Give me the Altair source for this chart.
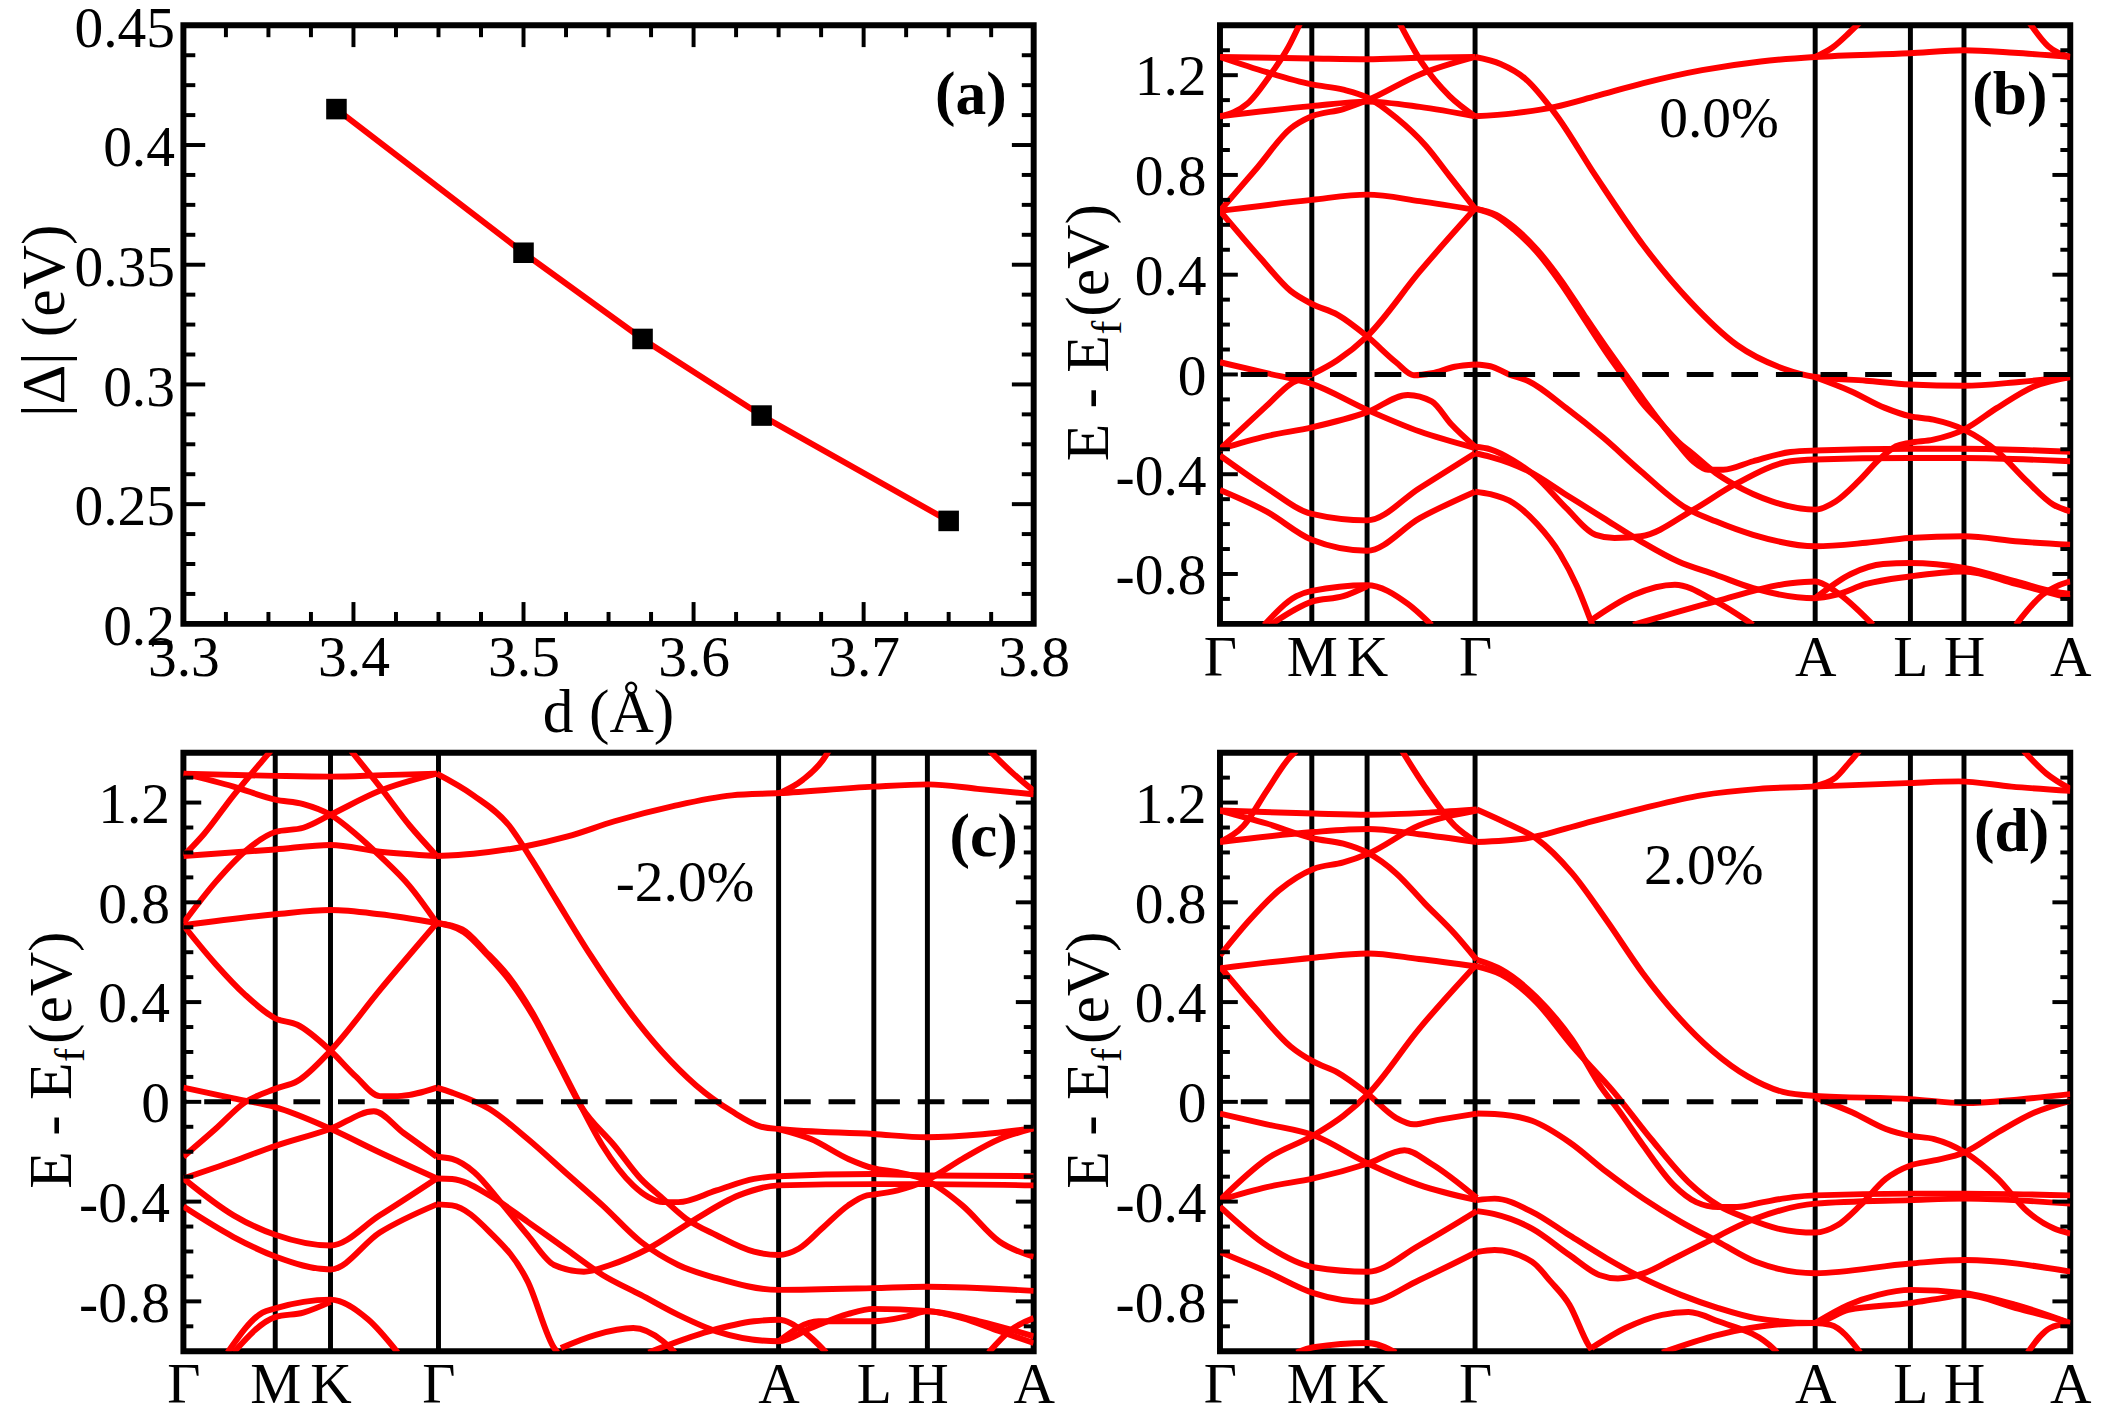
import json
import altair as alt
import pandas as pd

FONT = "Liberation Serif"
RED = "#ff0000"
W, H = 858, 604

# ---------------- panel (a) data ----------------
d_vals = [3.39, 3.50, 3.57, 3.64, 3.75]
gap_vals = [0.415, 0.355, 0.319, 0.287, 0.243]
a_xticks = [3.3, 3.4, 3.5, 3.6, 3.7, 3.8]
a_yticks = [0.2, 0.25, 0.3, 0.35, 0.4, 0.45]

# ---------------- band-structure k path ----------------
KPTS = [0.0, 0.108, 0.173, 0.300, 0.700, 0.812, 0.875, 1.0]
KLABELS = ["Γ", "M", "K", "Γ", "A", "L", "H", "A"]
E_TICKS = [-0.8, -0.4, 0, 0.4, 0.8, 1.2]

# ---------------- panel (b) 0.0% ----------------
bands_b = {
    "L1": ([0, 0.108, 0.173, 0.235, 0.300], [1.273, 1.267, 1.264, 1.27, 1.273]),
    "L2": ([0, 0.055, 0.108, 0.145, 0.173, 0.207, 0.242, 0.270, 0.300], [1.273, 1.212, 1.163, 1.142, 1.111, 1.030, 0.917, 0.795, 0.665]),
    "L3": ([0, 0.032, 0.063, 0.080, 0.0945], [1.035, 1.085, 1.22, 1.31, 1.41]),
    "L4": ([0, 0.108, 0.173, 0.235, 0.300], [1.035, 1.076, 1.094, 1.073, 1.035]),
    "L5": ([0, 0.044, 0.083, 0.108, 0.145, 0.173, 0.235, 0.300], [0.656, 0.830, 0.986, 1.035, 1.064, 1.099, 1.203, 1.273]),
    "L6": ([0, 0.108, 0.173, 0.235, 0.300], [0.656, 0.700, 0.721, 0.695, 0.660]),
    "L7": ([0, 0.048, 0.083, 0.108, 0.138, 0.173, 0.207, 0.228, 0.249, 0.276, 0.300], [0.656, 0.465, 0.335, 0.283, 0.240, 0.153, 0.049, -0.003, 0.005, 0.031, 0.040]),
    "L8": ([0, 0.055, 0.083, 0.108, 0.138, 0.173, 0.235, 0.300], [-0.299, -0.125, -0.038, 0.0, 0.057, 0.153, 0.413, 0.665]),
    "L9": ([0, 0.055, 0.108, 0.173, 0.235, 0.300], [0.049, 0.005, -0.038, -0.142, -0.229, -0.295]),
    "L10": ([0, 0.055, 0.108, 0.173, 0.221, 0.249, 0.272, 0.300], [-0.299, -0.247, -0.212, -0.151, -0.082, -0.108, -0.20, -0.290]),
    "L11": ([0, 0.055, 0.108, 0.173, 0.235, 0.300], [-0.325, -0.455, -0.559, -0.585, -0.455, -0.316]),
    "L12": ([0, 0.055, 0.108, 0.173, 0.235, 0.300], [-0.463, -0.550, -0.663, -0.707, -0.576, -0.470]),
    "L13": ([0.052, 0.090, 0.108, 0.173, 0.221, 0.249], [-1.005, -0.889, -0.868, -0.845, -0.92, -1.005]),
    "L14": ([0.059, 0.108, 0.145, 0.173], [-1.005, -0.911, -0.889, -0.849]),
    "L15": ([0.211, 0.238, 0.270, 0.300], [1.41, 1.247, 1.116, 1.035]),
    "R1": ([0.300, 0.330, 0.359, 0.394, 0.442, 0.498, 0.553, 0.608, 0.663, 0.700, 0.760, 0.811, 0.875, 0.94, 1.0], [1.273, 1.245, 1.186, 1.047, 0.795, 0.517, 0.292, 0.118, 0.023, -0.010, -0.025, -0.040, -0.045, -0.03, -0.010]),
    "R2": ([0.300, 0.345, 0.394, 0.442, 0.498, 0.567, 0.636, 0.700, 0.811, 0.875, 0.934, 1.0], [1.035, 1.047, 1.073, 1.116, 1.168, 1.220, 1.255, 1.273, 1.288, 1.300, 1.290, 1.273]),
    "R3": ([0.700, 0.72, 0.74, 0.752], [1.273, 1.31, 1.37, 1.41]),
    "R4": ([0.952, 0.974, 1.0], [1.41, 1.316, 1.273]),
    "R5": ([0.300, 0.325, 0.346, 0.373, 0.401, 0.428, 0.456, 0.477, 0.498, 0.520, 0.539, 0.557, 0.574, 0.592, 0.627, 0.671, 0.700, 0.811, 0.875, 1.0], [0.665, 0.64, 0.59, 0.50, 0.378, 0.24, 0.10, 0.0, -0.10, -0.20, -0.281, -0.35, -0.382, -0.382, -0.348, -0.311, -0.305, -0.298, -0.298, -0.310]),
    "R6": ([0.300, 0.325, 0.346, 0.373, 0.401, 0.428, 0.456, 0.477, 0.498, 0.517, 0.539, 0.557, 0.583, 0.605, 0.649, 0.700, 0.724, 0.751, 0.777, 0.795, 0.811, 0.839, 0.875, 0.914, 0.958, 1.0], [0.665, 0.635, 0.58, 0.49, 0.365, 0.225, 0.08, -0.02, -0.12, -0.19, -0.27, -0.321, -0.395, -0.442, -0.509, -0.542, -0.509, -0.428, -0.335, -0.288, -0.274, -0.261, -0.221, -0.134, -0.047, -0.010]),
    "R7": ([0.700, 0.742, 0.782, 0.811, 0.839, 0.875, 0.914, 0.949, 0.980, 1.0], [-0.011, -0.067, -0.134, -0.167, -0.181, -0.221, -0.308, -0.428, -0.522, -0.549]),
    "R8": ([0.300, 0.318, 0.340, 0.363, 0.407, 0.451, 0.495, 0.548, 0.583, 0.627, 0.700, 0.760, 0.811, 0.875, 0.94, 1.0], [0.040, 0.033, 0.0, -0.027, -0.134, -0.254, -0.388, -0.535, -0.589, -0.643, -0.689, -0.675, -0.656, -0.649, -0.67, -0.683]),
    "R9": ([0.300, 0.318, 0.345, 0.371, 0.407, 0.442, 0.464, 0.495, 0.557, 0.605, 0.671, 0.700, 0.811, 0.875, 1.0], [-0.290, -0.30, -0.345, -0.408, -0.535, -0.643, -0.656, -0.649, -0.542, -0.442, -0.348, -0.341, -0.335, -0.335, -0.348]),
    "R10": ([0.300, 0.318, 0.363, 0.407, 0.451, 0.495, 0.539, 0.583, 0.627, 0.700, 0.724, 0.760, 0.811, 0.875, 0.936, 1.0], [-0.316, -0.33, -0.388, -0.482, -0.576, -0.669, -0.750, -0.803, -0.857, -0.897, -0.884, -0.840, -0.810, -0.790, -0.840, -0.897]),
    "R11": ([0.700, 0.742, 0.780, 0.811, 0.875, 0.936, 0.980, 1.0], [-0.897, -0.80, -0.76, -0.756, -0.776, -0.830, -0.870, -0.88]),
    "R12": ([0.486, 0.583, 0.671, 0.700, 0.724, 0.768], [-1.004, -0.910, -0.837, -0.830, -0.870, -1.004]),
    "R13": ([0.437, 0.486, 0.535, 0.583, 0.627], [-0.984, -0.884, -0.843, -0.910, -1.004]),
    "R14": ([0.300, 0.318, 0.345, 0.373, 0.40, 0.42, 0.438], [-0.47, -0.48, -0.515, -0.60, -0.72, -0.85, -1.005]),
    "R15": ([0.936, 0.967, 1.0], [-1.004, -0.884, -0.830]),
}

# ---------------- panel (c) -2.0% ----------------
bands_c = {
    "L1": ([0, 0.108, 0.173, 0.235, 0.298], [1.316, 1.307, 1.304, 1.31, 1.316]),
    "L2": ([0, 0.059, 0.108, 0.141, 0.173, 0.203, 0.231, 0.266, 0.298], [1.316, 1.264, 1.212, 1.194, 1.151, 1.073, 0.986, 0.865, 0.717]),
    "L3": ([0, 0.024, 0.059, 0.093, 0.103], [0.986, 1.073, 1.229, 1.368, 1.408]),
    "L4": ([0, 0.108, 0.173, 0.231, 0.298], [0.986, 1.012, 1.030, 1.003, 0.986]),
    "L5": ([0, 0.038, 0.072, 0.108, 0.141, 0.173, 0.231, 0.298], [0.717, 0.882, 1.003, 1.082, 1.099, 1.151, 1.247, 1.316]),
    "L6": ([0, 0.108, 0.173, 0.231, 0.298], [0.708, 0.752, 0.769, 0.752, 0.717]),
    "L7": ([0, 0.038, 0.072, 0.108, 0.134, 0.173, 0.203, 0.231, 0.252, 0.298], [0.708, 0.552, 0.431, 0.335, 0.309, 0.205, 0.101, 0.023, 0.023, 0.057]),
    "L8": ([0, 0.038, 0.072, 0.108, 0.134, 0.173, 0.231, 0.298], [-0.220, -0.108, -0.003, 0.052, 0.083, 0.205, 0.448, 0.717]),
    "L9": ([0, 0.059, 0.108, 0.173, 0.231, 0.298], [0.057, 0.014, -0.021, -0.108, -0.203, -0.307]),
    "L10": ([0, 0.059, 0.108, 0.173, 0.224, 0.259, 0.298], [-0.307, -0.238, -0.177, -0.108, -0.038, -0.125, -0.220]),
    "L11": ([0, 0.059, 0.108, 0.173, 0.231, 0.298], [-0.307, -0.455, -0.533, -0.576, -0.455, -0.307]),
    "L12": ([0, 0.059, 0.108, 0.173, 0.231, 0.298], [-0.420, -0.542, -0.620, -0.672, -0.524, -0.411]),
    "L13": ([0.052, 0.093, 0.108, 0.173, 0.217, 0.252], [-1.005, -0.845, -0.828, -0.793, -0.872, -1.005]),
    "L14": ([0.059, 0.108, 0.141, 0.173], [-1.005, -0.863, -0.845, -0.802]),
    "L15": ([0.197, 0.231, 0.266, 0.298], [1.408, 1.264, 1.108, 0.986]),
    "R1": ([0.298, 0.341, 0.383, 0.410, 0.438, 0.479, 0.521, 0.562, 0.603, 0.645, 0.679, 0.700, 0.811, 0.874, 0.94, 1.0], [1.316, 1.229, 1.108, 0.969, 0.813, 0.587, 0.378, 0.205, 0.066, -0.038, -0.099, -0.109, -0.129, -0.142, -0.13, -0.106]),
    "R2": ([0.298, 0.341, 0.397, 0.452, 0.507, 0.576, 0.645, 0.701, 0.812, 0.876, 0.934, 1.0], [0.986, 0.995, 1.021, 1.064, 1.125, 1.186, 1.229, 1.238, 1.264, 1.273, 1.255, 1.233]),
    "R3": ([0.701, 0.728, 0.755, 0.759], [1.238, 1.29, 1.385, 1.408]),
    "R4": ([0.948, 0.976, 1.0], [1.408, 1.316, 1.247]),
    "R5": ([0.298, 0.328, 0.355, 0.383, 0.410, 0.438, 0.465, 0.493, 0.529, 0.547, 0.564, 0.582, 0.627, 0.671, 0.700, 0.811, 0.874, 1.0], [0.717, 0.691, 0.604, 0.50, 0.36, 0.18, 0.0, -0.176, -0.335, -0.382, -0.402, -0.402, -0.355, -0.309, -0.298, -0.289, -0.295, -0.298]),
    "R6": ([0.298, 0.330, 0.357, 0.385, 0.412, 0.440, 0.468, 0.507, 0.538, 0.564, 0.591, 0.627, 0.671, 0.700, 0.724, 0.751, 0.782, 0.804, 0.811, 0.840, 0.874, 0.916, 0.960, 1.0], [0.717, 0.68, 0.59, 0.48, 0.34, 0.16, -0.02, -0.176, -0.309, -0.388, -0.468, -0.535, -0.601, -0.614, -0.588, -0.508, -0.415, -0.375, -0.372, -0.355, -0.315, -0.229, -0.149, -0.106]),
    "R7": ([0.700, 0.738, 0.782, 0.811, 0.840, 0.874, 0.916, 0.960, 1.0], [-0.109, -0.149, -0.229, -0.266, -0.282, -0.315, -0.415, -0.561, -0.621]),
    "R8": ([0.298, 0.316, 0.360, 0.405, 0.449, 0.493, 0.538, 0.582, 0.627, 0.700, 0.811, 0.874, 1.0], [0.057, 0.037, -0.029, -0.149, -0.282, -0.415, -0.561, -0.654, -0.707, -0.754, -0.747, -0.741, -0.758]),
    "R9": ([0.298, 0.316, 0.342, 0.373, 0.405, 0.436, 0.471, 0.502, 0.547, 0.600, 0.653, 0.700, 0.811, 0.874, 1.0], [-0.220, -0.229, -0.282, -0.402, -0.535, -0.654, -0.681, -0.654, -0.588, -0.475, -0.375, -0.335, -0.33, -0.33, -0.335]),
    "R10": ([0.298, 0.316, 0.360, 0.405, 0.449, 0.493, 0.538, 0.582, 0.627, 0.700, 0.738, 0.782, 0.811, 0.874, 0.916, 0.960, 1.0], [-0.307, -0.309, -0.375, -0.481, -0.588, -0.694, -0.774, -0.854, -0.920, -0.960, -0.907, -0.85, -0.83, -0.838, -0.867, -0.92, -0.967]),
    "R11": ([0.700, 0.747, 0.811, 0.851, 0.874, 0.936, 1.0], [-0.960, -0.88, -0.880, -0.86, -0.84, -0.88, -0.94]),
    "R12": ([0.298, 0.316, 0.360, 0.405, 0.436, 0.44], [-0.411, -0.415, -0.521, -0.721, -0.987, -1.005]),
    "R13": ([0.444, 0.485, 0.529, 0.564, 0.578], [-0.987, -0.934, -0.907, -0.960, -1.005]),
    "R14": ([0.547, 0.618, 0.671, 0.700, 0.729, 0.756], [-1.005, -0.920, -0.880, -0.874, -0.920, -1.005]),
    "R15": ([0.947, 0.973, 1.0], [-1.005, -0.915, -0.867]),
}

# ---------------- panel (d) 2.0% ----------------
bands_d = {
    "L1": ([0, 0.110, 0.174, 0.248, 0.302], [1.168, 1.156, 1.151, 1.160, 1.172]),
    "L2": ([0, 0.055, 0.110, 0.145, 0.174, 0.207, 0.241, 0.276, 0.302], [1.168, 1.116, 1.056, 1.035, 0.998, 0.917, 0.795, 0.674, 0.569]),
    "L3": ([0, 0.028, 0.055, 0.083, 0.090], [1.042, 1.108, 1.247, 1.385, 1.408]),
    "L4": ([0, 0.110, 0.174, 0.234, 0.302], [1.042, 1.082, 1.094, 1.073, 1.042]),
    "L5": ([0, 0.034, 0.069, 0.110, 0.145, 0.174, 0.234, 0.302], [0.587, 0.726, 0.847, 0.934, 0.960, 0.995, 1.108, 1.168]),
    "L6": ([0, 0.110, 0.174, 0.234, 0.302], [0.535, 0.578, 0.595, 0.573, 0.543]),
    "L7": ([0, 0.041, 0.083, 0.110, 0.138, 0.174, 0.207, 0.228, 0.255, 0.302], [0.543, 0.378, 0.222, 0.161, 0.118, 0.031, -0.064, -0.090, -0.073, -0.047]),
    "L8": ([0, 0.055, 0.110, 0.145, 0.174, 0.234, 0.302], [-0.394, -0.229, -0.134, -0.056, 0.031, 0.292, 0.552]),
    "L9": ([0, 0.055, 0.110, 0.174, 0.234, 0.302], [-0.047, -0.090, -0.134, -0.247, -0.333, -0.394]),
    "L10": ([0, 0.055, 0.110, 0.174, 0.217, 0.248, 0.302], [-0.394, -0.342, -0.307, -0.247, -0.194, -0.247, -0.385]),
    "L11": ([0, 0.055, 0.110, 0.174, 0.234, 0.302], [-0.42, -0.576, -0.663, -0.681, -0.576, -0.438]),
    "L12": ([0, 0.055, 0.110, 0.174, 0.234, 0.302], [-0.602, -0.681, -0.767, -0.802, -0.715, -0.602]),
    "L13": ([0.090, 0.110, 0.174, 0.207], [-1.005, -0.984, -0.967, -1.005]),
    "L14": ([0.214, 0.241, 0.276, 0.302], [1.408, 1.264, 1.108, 1.042]),
    "R1": ([0.302, 0.338, 0.372, 0.414, 0.455, 0.497, 0.538, 0.579, 0.621, 0.662, 0.700, 0.812, 0.876, 0.94, 1.0], [1.172, 1.116, 1.056, 0.917, 0.726, 0.517, 0.344, 0.205, 0.101, 0.040, 0.024, 0.011, -0.005, 0.01, 0.031]),
    "R2": ([0.302, 0.359, 0.428, 0.497, 0.566, 0.634, 0.697, 0.807, 0.869, 0.931, 1.0], [1.042, 1.056, 1.116, 1.177, 1.229, 1.255, 1.264, 1.278, 1.285, 1.264, 1.247]),
    "R3": ([0.697, 0.724, 0.740, 0.752], [1.264, 1.30, 1.36, 1.408]),
    "R4": ([0.945, 0.972, 1.0], [1.408, 1.316, 1.255]),
    "R5": ([0.302, 0.331, 0.372, 0.414, 0.450, 0.468, 0.498, 0.534, 0.560, 0.586, 0.608, 0.639, 0.674, 0.700, 0.812, 0.876, 1.0], [0.569, 0.53, 0.42, 0.25, 0.05, -0.03, -0.176, -0.335, -0.402, -0.422, -0.422, -0.402, -0.382, -0.375, -0.368, -0.368, -0.375]),
    "R6": ([0.302, 0.331, 0.372, 0.414, 0.463, 0.507, 0.551, 0.586, 0.621, 0.656, 0.700, 0.726, 0.753, 0.783, 0.812, 0.840, 0.876, 0.915, 0.958, 1.0], [0.543, 0.51, 0.40, 0.225, 0.04, -0.149, -0.322, -0.415, -0.468, -0.508, -0.524, -0.495, -0.415, -0.309, -0.255, -0.235, -0.202, -0.122, -0.043, 0.004]),
    "R7": ([0.700, 0.744, 0.783, 0.812, 0.840, 0.876, 0.915, 0.950, 0.981, 1.0], [0.017, -0.043, -0.109, -0.136, -0.149, -0.202, -0.309, -0.441, -0.508, -0.528]),
    "R8": ([0.302, 0.323, 0.367, 0.411, 0.455, 0.498, 0.542, 0.586, 0.630, 0.700, 0.812, 0.876, 1.0], [-0.047, -0.049, -0.076, -0.162, -0.282, -0.388, -0.481, -0.561, -0.641, -0.687, -0.648, -0.634, -0.681]),
    "R9": ([0.302, 0.323, 0.367, 0.411, 0.446, 0.468, 0.498, 0.534, 0.569, 0.630, 0.700, 0.812, 0.876, 1.0], [-0.438, -0.45, -0.508, -0.614, -0.694, -0.708, -0.688, -0.628, -0.568, -0.468, -0.408, -0.394, -0.388, -0.408]),
    "R10": ([0.302, 0.323, 0.367, 0.411, 0.455, 0.498, 0.542, 0.586, 0.630, 0.700, 0.739, 0.812, 0.849, 0.876, 0.936, 0.981, 1.0], [-0.394, -0.388, -0.441, -0.535, -0.628, -0.708, -0.774, -0.827, -0.867, -0.887, -0.834, -0.807, -0.787, -0.774, -0.827, -0.867, -0.887]),
    "R11": ([0.700, 0.739, 0.774, 0.812, 0.876, 0.936, 1.0], [-0.887, -0.814, -0.774, -0.754, -0.767, -0.814, -0.887]),
    "R12": ([0.302, 0.323, 0.367, 0.389, 0.411, 0.433, 0.437], [-0.602, -0.594, -0.641, -0.721, -0.814, -0.973, -0.995]),
    "R13": ([0.437, 0.477, 0.520, 0.551, 0.586, 0.652, 0.655], [-0.987, -0.907, -0.854, -0.843, -0.880, -0.993, -1.005]),
    "R14": ([0.520, 0.586, 0.652, 0.700, 0.718, 0.753], [-1.005, -0.934, -0.894, -0.887, -0.894, -1.005]),
    "R15": ([0.950, 0.976, 1.0], [-1.005, -0.907, -0.887]),
}

# annotations: (text, k, E)
strain_b = ("0.0%", 0.587, 1.021)
strain_c = ("-2.0%", 0.590, 0.873)
strain_d = ("2.0%", 0.569, 0.943)
tag_b = ("(b)", 0.929, 1.120)
tag_c = ("(c)", 0.941, 1.062)
tag_d = ("(d)", 0.931, 1.080)
tag_a = ("(a)", 3.763, 0.421)

LBL = 58
TTL = 62
BAND_W = 6


def text_layer(txt, x, y, size=LBL, angle=0, align="center", baseline="middle", weight="normal"):
    return alt.Chart(pd.DataFrame({"t": [txt]})).mark_text(
        font=FONT, fontSize=size, angle=angle, align=align, baseline=baseline,
        fontWeight=weight, color="black"
    ).encode(x=alt.value(x), y=alt.value(y), text="t:N")


def tick_layers(field, enc_ch, scale, axis, majors, minors, major_len, minor_len, sides):
    layers = []
    for vals, ln in ((majors, major_len), (minors, minor_len)):
        df = pd.DataFrame({field: vals})
        for side in sides:
            if side == "left":
                pos = dict(x=alt.value(0), x2=alt.value(ln))
            elif side == "right":
                pos = dict(x=alt.value(W - ln), x2=alt.value(W))
            elif side == "top":
                pos = dict(y=alt.value(0), y2=alt.value(ln))
            else:
                pos = dict(y=alt.value(H - ln), y2=alt.value(H))
            if enc_ch == "y":
                enc = dict(y=alt.Y(f"{field}:Q", scale=scale, axis=axis), **pos)
            else:
                enc = dict(x=alt.X(f"{field}:Q", scale=scale, axis=axis), **pos)
            layers.append(alt.Chart(df).mark_rule(color="black", strokeWidth=4).encode(**enc))
    return layers


# ---------------- panel (a) ----------------
ax_scale = alt.Scale(domain=[3.3, 3.8], nice=False, zero=False)
ay_scale = alt.Scale(domain=[0.2, 0.45], nice=False, zero=False)
ax_axis = alt.Axis(values=a_xticks, labelExpr="'' + datum.value", title=None, domain=False, ticks=False,
                   grid=False, labelFont=FONT, labelFontSize=LBL, labelColor="black", labelPadding=6,
                   labelFlush=False, labelOverlap=False, labelBaseline="top")
ay_axis = alt.Axis(values=a_yticks, labelExpr="'' + datum.value", title=None, domain=False, ticks=False,
                   grid=False, labelFont=FONT, labelFontSize=LBL, labelColor="black", labelPadding=9,
                   labelFlush=False, labelOverlap=False, labelOffset=4)

a_df = pd.DataFrame({"d": d_vals, "gap": gap_vals})
a_line = alt.Chart(a_df).mark_line(color=RED, strokeWidth=BAND_W).encode(
    x=alt.X("d:Q", scale=ax_scale, axis=ax_axis), y=alt.Y("gap:Q", scale=ay_scale, axis=ay_axis))
a_pts = alt.Chart(a_df).mark_square(color="black", size=430, opacity=1).encode(
    x=alt.X("d:Q", scale=ax_scale, axis=ax_axis), y=alt.Y("gap:Q", scale=ay_scale, axis=ay_axis))

a_ymaj = [0.25, 0.3, 0.35, 0.4]
a_ymin = [round(0.2 + 0.0125 * i, 4) for i in range(1, 20) if i % 4]
a_xmaj = [3.4, 3.5, 3.6, 3.7]
a_xmin = [round(3.3 + 0.025 * i, 4) for i in range(1, 20) if i % 4]

a_tag = alt.Chart(pd.DataFrame({"t": [tag_a[0]], "d": [tag_a[1]], "gap": [tag_a[2]]})).mark_text(
    font=FONT, fontSize=TTL, fontWeight="bold", color="black").encode(
    x=alt.X("d:Q", scale=ax_scale, axis=ax_axis), y=alt.Y("gap:Q", scale=ay_scale, axis=ay_axis), text="t:N")

panel_a = alt.layer(
    a_line, a_pts,
    *tick_layers("gap", "y", ay_scale, ay_axis, a_ymaj, a_ymin, 22, 12, ["left", "right"]),
    *tick_layers("d", "x", ax_scale, ax_axis, a_xmaj, a_xmin, 22, 12, ["top", "bottom"]),
    a_tag,
    text_layer("|Δ| (eV)", -120, 298, size=TTL, angle=270, baseline="alphabetic"),
    text_layer("d (Å)", W / 2, 713, size=TTL, baseline="alphabetic"),
).properties(width=W, height=H)

# ---------------- band panels ----------------
bx_scale = alt.Scale(domain=[0, 1], nice=False, zero=False)
by_scale = alt.Scale(domain=[-1.0, 1.4], nice=False, zero=False)
k_expr = f"{json.dumps(KLABELS, ensure_ascii=False)}[indexof({json.dumps(KPTS)}, datum.value)]"
bx_axis = alt.Axis(values=KPTS, labelExpr=k_expr, title=None, domain=False, ticks=False, grid=False,
                   labelFont=FONT, labelFontSize=LBL, labelColor="black", labelPadding=6,
                   labelFlush=False, labelOverlap=False, labelBaseline="top")
by_axis = alt.Axis(values=E_TICKS, labelExpr="'' + datum.value", title=None, domain=False, ticks=False,
                   grid=False, labelFont=FONT, labelFontSize=LBL, labelColor="black", labelPadding=14,
                   labelFlush=False, labelOverlap=False, labelOffset=3)

E_MINOR = [round(-0.9 + 0.1 * i, 2) for i in range(0, 23)]
E_MINOR = [v for v in E_MINOR if v not in (-0.8, -0.4, 0.0, 0.4, 0.8, 1.2)]


def band_panel(bands, strain, tag):
    rows = []
    for name, (ks, es) in bands.items():
        for k, e in zip(ks, es):
            rows.append({"band": name, "k": k, "E": e})
    df = pd.DataFrame(rows)
    X = alt.X("k:Q", scale=bx_scale, axis=bx_axis)
    Y = alt.Y("E:Q", scale=by_scale, axis=by_axis)
    vlines = alt.Chart(pd.DataFrame({"k": KPTS[1:-1]})).mark_rule(color="black", strokeWidth=5).encode(x=X)
    lines = alt.Chart(df).mark_line(color=RED, strokeWidth=BAND_W, interpolate="monotone", clip=True).encode(
        x=X, y=Y, detail="band:N")
    zero = alt.Chart(pd.DataFrame({"E": [0.0]})).mark_rule(
        color="black", strokeWidth=5, strokeDash=[27, 18]).encode(y=Y)
    ann = alt.Chart(pd.DataFrame({"t": [strain[0]], "k": [strain[1]], "E": [strain[2]]})).mark_text(
        font=FONT, fontSize=LBL, color="black").encode(x=X, y=Y, text="t:N")
    tg = alt.Chart(pd.DataFrame({"t": [tag[0]], "k": [tag[1]], "E": [tag[2]]})).mark_text(
        font=FONT, fontSize=TTL, fontWeight="bold", color="black").encode(x=X, y=Y, text="t:N")
    return alt.layer(
        vlines, lines, zero,
        *tick_layers("E", "y", by_scale, by_axis, [-0.8, -0.4, 0.0, 0.4, 0.8, 1.2], E_MINOR, 18, 10,
                     ["left", "right"]),
        ann, tg,
        text_layer("E - E", -113, 440, size=TTL, angle=270, align="left", baseline="alphabetic"),
        text_layer("f", -100, 312, size=42, angle=270, align="left", baseline="alphabetic"),
        text_layer("(eV)", -113, 294, size=TTL, angle=270, align="left", baseline="alphabetic"),
    ).properties(width=W, height=H)


panel_b = band_panel(bands_b, strain_b, tag_b)
panel_c = band_panel(bands_c, strain_c, tag_c)
panel_d = band_panel(bands_d, strain_d, tag_d)

chart = alt.concat(
    panel_a, panel_b, panel_c, panel_d,
    columns=2, spacing={"row": 130, "column": 188}, bounds="flush"
).properties(
    padding={"left": 4, "top": -17, "right": 5, "bottom": 5}, background="white"
).configure_view(stroke="black", strokeWidth=6)

chart.save("out.html", embed_options={"renderer": "svg", "actions": False})
